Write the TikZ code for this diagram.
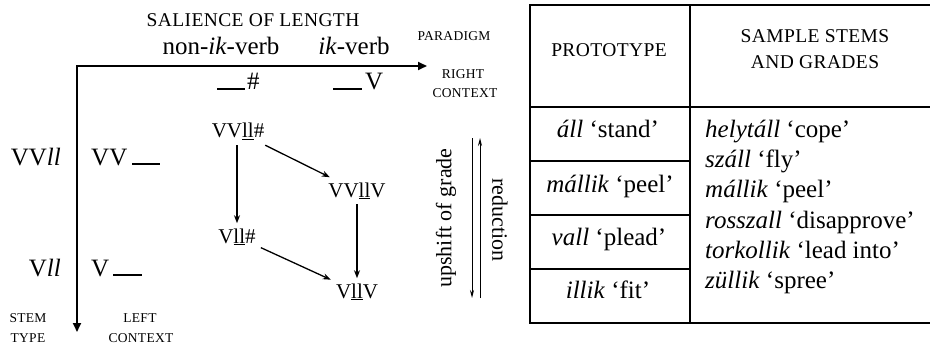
\documentclass[tikz,border=0pt]{standalone}
\usepackage{fontspec}
\setmainfont{Liberation Serif}
\usetikzlibrary{arrows.meta}

\begin{document}
\begin{tikzpicture}[x=1pt,y=-1pt,
  lab/.style={anchor=base,inner sep=0pt,font=\fontsize{25}{30}\selectfont},
  grade/.style={anchor=base,inner sep=5pt,font=\fontsize{21}{25}\selectfont},
  bigcaps/.style={anchor=base,inner sep=0pt,font=\fontsize{19.5}{25}\selectfont\addfontfeature{LetterSpace=2}},
  tinycaps/.style={anchor=base,inner sep=0pt,font=\fontsize{13.5}{16}\selectfont\addfontfeature{LetterSpace=2}},
  cell/.style={anchor=base,inner sep=0pt,font=\fontsize{25}{30}\selectfont},
  axis/.style={line width=1.8pt,-{Triangle[length=9pt,width=8pt]}},
  gradearrow/.style={line width=1.3pt,-{Stealth[length=8pt,width=6pt]}},
  thinarrow/.style={line width=1pt,-{Stealth[length=8pt,width=4pt]}},
  tabline/.style={line width=1.8pt}
]
\useasboundingbox (0,0) rectangle (930,345);

% ---- axes ----
\coordinate (origin) at (77,66);
\coordinate (xend) at (427,66);
\coordinate (ystart) at (77,65.1);
\coordinate (yend) at (77,332);
\draw[axis] (origin) -- (xend);
\draw[axis] (ystart) -- (yend);

% ---- top labels ----
\node[bigcaps] (salience) at (253,27) {SALIENCE OF LENGTH};
\node[lab] (nonik) at (221,55) {non-\textit{ik}-verb};
\node[lab] (ik) at (354,55) {\textit{ik}-verb};
\node[tinycaps] (paradigm) at (454,41) {PARADIGM};
\node[tinycaps] (right1) at (463,79) {RIGHT};
\node[tinycaps] (right2) at (465,98) {CONTEXT};
\node[lab,anchor=base west] (hashctx) at (217,90) {\rule{28pt}{1.6pt}\kern2pt\#};
\node[lab,anchor=base west] (vowctx) at (333,90) {\rule{29pt}{1.6pt}\kern3pt V};

% ---- left labels ----
\node[lab,anchor=base east] (vvll) at (61,165) {VV\textit{ll}};
\node[lab,anchor=base east] (vll) at (61,276) {V\textit{ll}};
\node[lab,anchor=base west] (vvctx) at (91,165) {VV\kern5pt\rule{28pt}{1.6pt}};
\node[lab,anchor=base west] (vctx) at (91,276) {V\kern4pt\rule{29pt}{1.6pt}};
\node[tinycaps] (stem1) at (28,322) {STEM};
\node[tinycaps] (stem2) at (28,342) {TYPE};
\node[tinycaps] (left1) at (140,322) {LEFT};
\node[tinycaps] (left2) at (141,342) {CONTEXT};

% ---- grade lattice ----
\node[grade] (vvlh) at (238,138) {VV\underline{ll}\#};
\node[grade] (vvlv) at (357,197) {VV\underline{ll}V};
\node[grade] (vlh) at (237,243) {V\underline{ll}\#};
\node[grade] (vlv) at (357,298) {V\underline{ll}V};
\draw[gradearrow] (vlh |- vvlh.south) -- (vlh.north);
\draw[gradearrow] (vvlh) -- (vvlv);
\draw[gradearrow] (vvlv.south) -- (vlv.north);
\draw[gradearrow] (vlh) -- (vlv);

% ---- upshift / reduction ----
\coordinate (dtop) at (472,138);
\coordinate (dbot) at (472,298);
\coordinate (utop) at (480,138);
\coordinate (ubot) at (480,298);
\draw[thinarrow] (dtop) -- (dbot);
\draw[thinarrow] (ubot) -- (utop);
\node[rotate=90,inner sep=0pt,font=\fontsize{22}{26}\selectfont] (upshift) at (446,218) {upshift of grade};
\node[rotate=-90,inner sep=0pt,font=\fontsize{22}{26}\selectfont] (reduction) at (500,220) {reduction};

% ---- table ----
\draw[tabline] (530,5) -- (930,5);
\draw[tabline] (530,107) -- (930,107);
\draw[tabline] (530,323) -- (930,323);
\draw[tabline] (530,161) -- (690,161);
\draw[tabline] (530,215) -- (690,215);
\draw[tabline] (530,269) -- (690,269);
\draw[tabline] (530,4.1) -- (530,323.9);
\draw[tabline] (690,4.1) -- (690,323.9);

\node[bigcaps] (proto) at (609,57) {PROTOTYPE};
\node[bigcaps] (sample1) at (815,43) {SAMPLE STEMS};
\node[bigcaps] (sample2) at (815,69) {AND GRADES};

\node[cell] (p1) at (608,137) {\textit{áll} ‘stand’};
\node[cell] (p2) at (610,192) {\textit{mállik} ‘peel’};
\node[cell] (p3) at (609,245) {\textit{vall} ‘plead’};
\node[cell] (p4) at (608,298) {\textit{illik} ‘fit’};

\node[cell,anchor=base west] (s1) at (705,137) {\textit{helytáll} ‘cope’};
\node[cell,anchor=base west] (s2) at (705,167) {\textit{száll} ‘fly’};
\node[cell,anchor=base west] (s3) at (705,197) {\textit{mállik} ‘peel’};
\node[cell,anchor=base west] (s4) at (705,228) {\textit{rosszall} ‘disapprove’};
\node[cell,anchor=base west] (s5) at (705,258) {\textit{torkollik} ‘lead into’};
\node[cell,anchor=base west] (s6) at (705,288) {\textit{züllik} ‘spree’};
\end{tikzpicture}
\end{document}
